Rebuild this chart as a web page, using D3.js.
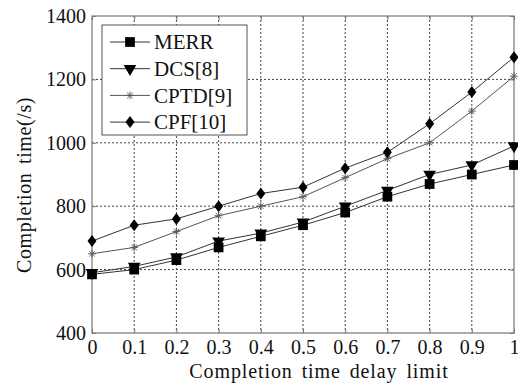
<!DOCTYPE html>
<html><head><meta charset="utf-8">
<script src="https://cdn.jsdelivr.net/npm/d3@7"></script>
<style>body{margin:0;background:#fff}</style>
</head><body>
<svg id="c" width="518" height="390"></svg>
<script>
const xValues = [0,0.1,0.2,0.3,0.4,0.5,0.6,0.7,0.8,0.9,1];
const merr = [585,600,630,670,705,740,780,830,870,900,930];
const dcs  = [590,610,640,690,715,750,800,850,900,930,990];
const cptd = [650,670,720,770,800,830,890,950,1000,1100,1210];
const cpf  = [690,740,760,800,840,860,920,970,1060,1160,1270];
const seriesNames = ["MERR","DCS[8]","CPTD[9]","CPF[10]"];
const xTicks = [0,0.1,0.2,0.3,0.4,0.5,0.6,0.7,0.8,0.9,1];
const xTickLabels = ["0","0.1","0.2","0.3","0.4","0.5","0.6","0.7","0.8","0.9","1"];
const yTicks = [400,600,800,1000,1200,1400];
const xTitle = "Completion time delay limit";
const yTitle = "Completion time(/s)";

const svg = d3.select("#c");
const L=92,R=514,T=16,B=333;
const x = d3.scaleLinear().domain([0,1]).range([L,R]);
const y = d3.scaleLinear().domain([400,1400]).range([B,T]);
const font = "'Liberation Serif','Times New Roman',serif";

// grid
const g = svg.append("g");
g.selectAll(".gx").data(xTicks.slice(1,-1)).join("line")
  .attr("x1",d=>x(d)).attr("x2",d=>x(d)).attr("y1",T).attr("y2",B)
  .attr("stroke","#444").attr("stroke-width",1).attr("stroke-dasharray","2,2");
g.selectAll(".gy").data(yTicks.slice(1,-1)).join("line")
  .attr("x1",L).attr("x2",R).attr("y1",d=>y(d)).attr("y2",d=>y(d))
  .attr("stroke","#444").attr("stroke-width",1).attr("stroke-dasharray","2,2");

// frame
svg.append("rect").attr("x",L).attr("y",T).attr("width",R-L).attr("height",B-T)
  .attr("fill","none").attr("stroke","#777").attr("stroke-width",1.2);

// axes with inner ticks
const tk = 4;
const xg = svg.append("g").attr("transform",`translate(0,${B})`)
  .call(d3.axisBottom(x).tickValues(xTicks).tickFormat((d,i)=>xTickLabels[i]).tickSizeInner(-tk).tickSizeOuter(0).tickPadding(9));
const yg = svg.append("g").attr("transform",`translate(${L},0)`)
  .call(d3.axisLeft(y).tickValues(yTicks).tickFormat(d3.format("d")).tickSizeInner(-tk).tickSizeOuter(0).tickPadding(6));
const xt = svg.append("g").attr("transform",`translate(0,${T})`)
  .call(d3.axisTop(x).tickValues(xTicks).tickFormat("").tickSizeInner(-tk).tickSizeOuter(0));
const yr = svg.append("g").attr("transform",`translate(${R},0)`)
  .call(d3.axisRight(y).tickValues(yTicks).tickFormat("").tickSizeInner(-tk).tickSizeOuter(0));
[xg,yg,xt,yr].forEach(a=>{a.select(".domain").remove();
  a.selectAll("line").attr("stroke","#777");
  a.selectAll("text").attr("font-family",font).attr("font-size",20).attr("fill","#111");});
xg.selectAll("text").attr("dy","0.62em");

svg.append("text").attr("x",319).attr("y",377.5).attr("text-anchor","middle")
  .attr("font-family",font).attr("font-size",20).attr("letter-spacing",0.9).attr("word-spacing",3)
  .attr("fill","#111").text(xTitle);
svg.append("text").attr("transform","translate(31,185) rotate(-90)").attr("text-anchor","middle")
  .attr("font-family",font).attr("font-size",20).attr("letter-spacing",0.6).attr("word-spacing",3)
  .attr("fill","#111").text(yTitle);

// series
const series = [
  {name:seriesNames[0], v:merr, sym:d3.symbolSquare, size:95, color:"#333", mcolor:"#000"},
  {name:seriesNames[1], v:dcs, sym:d3.symbolTriangle, size:70, rot:180, color:"#333", mcolor:"#000"},
  {name:seriesNames[2], v:cptd, sym:"star", size:0, color:"#555", mcolor:"#555"},
  {name:seriesNames[3], v:cpf, sym:"diamond", size:0, color:"#333", mcolor:"#000"}
];
const line = d3.line().x((d,i)=>x(xValues[i])).y(d=>y(d));
function drawMarker(sel, s, cx, cy){
  if(s.sym==="star"){
    const r=4;
    const p = sel.append("g").attr("transform",`translate(${cx},${cy})`).attr("stroke",s.mcolor).attr("stroke-width",0.9);
    [[-r,0,r,0],[0,-r,0,r],[-r*0.7,-r*0.7,r*0.7,r*0.7],[-r*0.7,r*0.7,r*0.7,-r*0.7]].forEach(a=>
      p.append("line").attr("x1",a[0]).attr("y1",a[1]).attr("x2",a[2]).attr("y2",a[3]));
  } else if(s.sym==="diamond"){
    sel.append("path").attr("d","M0,-6L4.5,0L0,6L-4.5,0Z").attr("transform",`translate(${cx},${cy})`).attr("fill",s.mcolor);
  } else {
    sel.append("path").attr("d",d3.symbol().type(s.sym).size(s.size)())
      .attr("transform",`translate(${cx},${cy})${s.rot?` rotate(${s.rot})`:""}`).attr("fill",s.mcolor);
  }
}
series.forEach(s=>{
  svg.append("path").datum(s.v).attr("d",line).attr("fill","none").attr("stroke",s.color).attr("stroke-width",1);
  const mg = svg.append("g");
  s.v.forEach((d,i)=>drawMarker(mg,s,x(xValues[i]),y(d)));
});

// legend
const lg = svg.append("g");
lg.append("rect").attr("x",102).attr("y",25).attr("width",145).attr("height",110)
  .attr("fill","#fff").attr("stroke","#555").attr("stroke-width",1);
series.forEach((s,i)=>{
  const ly = 42 + i*26.7;
  lg.append("line").attr("x1",110).attr("x2",150).attr("y1",ly).attr("y2",ly).attr("stroke",s.color).attr("stroke-width",1);
  drawMarker(lg,s,130,ly);
  lg.append("text").attr("x",154).attr("y",ly).attr("dy","0.35em").attr("font-family",font)
    .attr("font-size",21).attr("fill","#111").text(s.name);
});
</script>
</body></html>
